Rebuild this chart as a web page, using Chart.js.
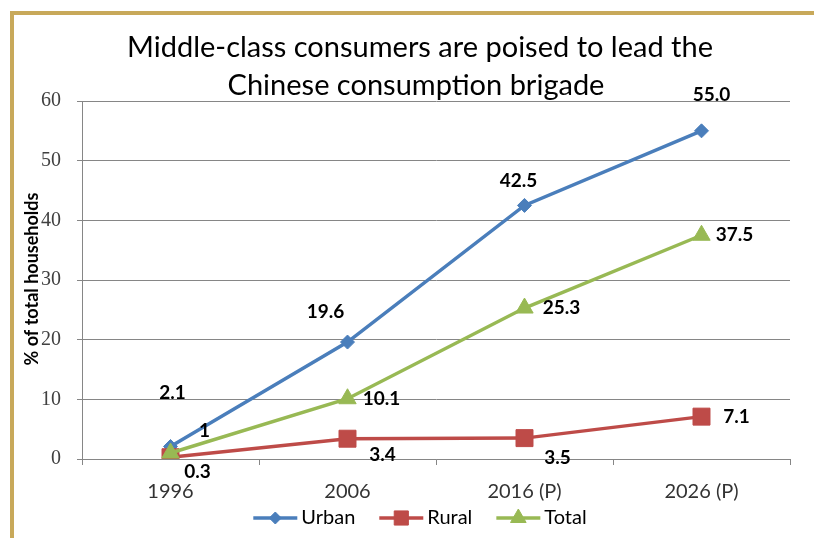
<!DOCTYPE html>
<html>
<head>
<meta charset="utf-8">
<script src="https://cdn.jsdelivr.net/npm/chart.js@4.4.1/dist/chart.umd.min.js"></script>
<style>
html, body { margin: 0; padding: 0; background: #fff; }
#wrap { position: relative; width: 814px; height: 538px; overflow: hidden; }
#frame { position: absolute; left: 10px; top: 11px; width: 900px; height: 700px;
         border-left: 4px solid #c8a95a; border-top: 4px solid #c8a95a; }
#chart { position: absolute; left: 0; top: 0; }
</style>
</head>
<body>
<div id="wrap">
  <div id="frame"></div>
  <canvas id="chart" width="814" height="538"></canvas>
</div>
<script>
// data
var categories = ['1996', '2006', '2016 (P)', '2026 (P)'];
var urban = [2.1, 19.6, 42.5, 55.0];
var rural = [0.3, 3.4, 3.5, 7.1];
var total = [1, 10.1, 25.3, 37.5];
var urbanLabels = ['2.1', '19.6', '42.5', '55.0'];
var ruralLabels = ['0.3', '3.4', '3.5', '7.1'];
var totalLabels = ['1', '10.1', '25.3', '37.5'];
var yTicks = [0, 10, 20, 30, 40, 50, 60];
var titleLines = ['Middle-class consumers are poised to lead the', 'Chinese consumption brigade'];
var yTitle = '% of total households';

var FONT = 'Lato, "Open Sans", sans-serif';
var AXIS = '#868686';

// titles, value labels and the legend (line + marker like the original)
var overlayPlugin = {
    id: 'overlay',
    afterDraw: function(chart) {
        var ctx = chart.ctx;
        ctx.save();

        // value labels
        ctx.font = 'bold 19px ' + FONT;
        ctx.fillStyle = '#000';
        ctx.textAlign = 'center';
        ctx.textBaseline = 'middle';
        chart.data.datasets.forEach(function(ds, i) {
            var meta = chart.getDatasetMeta(i);
            meta.data.forEach(function(pt, j) {
                var off = ds.labelOffsets[j];
                ctx.fillText(ds.valueLabels[j], pt.x + off[0], pt.y + off[1]);
            });
        });

        // chart title
        ctx.font = '29px ' + FONT;
        ctx.fillText(titleLines[0], 420, 48);
        ctx.fillText(titleLines[1], 416, 86);

        // y axis title
        ctx.save();
        ctx.translate(32, 279);
        ctx.rotate(-Math.PI / 2);
        ctx.font = 'bold 18px ' + FONT;
        ctx.fillText(yTitle, 0, 0);
        ctx.restore();

        // legend
        ctx.font = '20px ' + FONT;
        ctx.textAlign = 'left';
        var symW = 44, gap = 4, itemGap = 24, ly = 518;
        var widths = chart.data.datasets.map(function(ds) {
            return symW + gap + ctx.measureText(ds.label).width;
        });
        var totalW = widths.reduce(function(a, b) { return a + b; }, 0) + itemGap * (widths.length - 1);
        var x = 420 - totalW / 2;
        chart.data.datasets.forEach(function(ds, i) {
            ctx.strokeStyle = ds.borderColor;
            ctx.lineWidth = 3.5;
            ctx.beginPath();
            ctx.moveTo(x, ly);
            ctx.lineTo(x + symW, ly);
            ctx.stroke();
            ctx.fillStyle = ds.backgroundColor;
            ctx.lineWidth = 1;
            Chart.helpers.drawPoint(ctx, {
                pointStyle: ds.pointStyle,
                radius: ds.legendRadius,
                borderWidth: 1,
                rotation: 0
            }, x + symW / 2, ly);
            ctx.fillStyle = '#000';
            ctx.fillText(ds.label, x + symW + gap, ly);
            x += widths[i] + itemGap;
        });

        ctx.restore();
    }
};

var ctx = document.getElementById('chart').getContext('2d');
var chart = new Chart(ctx, {
    type: 'line',
    data: {
        labels: categories,
        datasets: [
            {
                label: 'Urban',
                data: urban,
                valueLabels: urbanLabels,
                labelOffsets: [[2, -54], [-22, -30], [-6, -25], [10, -36]],
                borderColor: '#4a7ebb',
                backgroundColor: '#4a7ebb',
                pointStyle: 'rectRot',
                pointRadius: 7,
                legendRadius: 6,
                borderWidth: 3.5,
                pointBorderWidth: 1,
                order: 2
            },
            {
                label: 'Rural',
                data: rural,
                valueLabels: ruralLabels,
                labelOffsets: [[27, 15], [35, 16], [33, 20], [35, 0]],
                borderColor: '#be4b48',
                backgroundColor: '#be4b48',
                pointStyle: 'rect',
                pointRadius: 12,
                legendRadius: 10,
                borderWidth: 3.5,
                pointBorderWidth: 1,
                order: 1
            },
            {
                label: 'Total',
                data: total,
                valueLabels: totalLabels,
                labelOffsets: [[34, -22], [34, 0], [37, 0], [33, 0]],
                borderColor: '#98b954',
                backgroundColor: '#98b954',
                pointStyle: 'triangle',
                pointRadius: 10,
                legendRadius: 9,
                borderWidth: 3.5,
                pointBorderWidth: 1,
                order: 0
            }
        ]
    },
    options: {
        responsive: false,
        animation: false,
        layout: {
            padding: { top: 101, right: 24, bottom: 0, left: 0 }
        },
        plugins: {
            legend: { display: false },
            title: { display: false },
            tooltip: { enabled: false }
        },
        elements: {
            line: { tension: 0 }
        },
        scales: {
            x: {
                type: 'category',
                offset: true,
                grid: {
                    offset: true,
                    drawOnChartArea: false,
                    tickLength: 6,
                    color: AXIS
                },
                border: { color: AXIS, width: 1 },
                ticks: {
                    color: '#333',
                    font: { family: FONT, size: 20 },
                    padding: 15,
                    maxRotation: 0
                },
                afterFit: function(scale) { scale.height = 79; }
            },
            y: {
                min: 0,
                max: 60,
                afterBuildTicks: function(scale) {
                    scale.ticks = yTicks.map(function(v) { return { value: v }; });
                },
                grid: {
                    color: AXIS,
                    tickLength: 5
                },
                border: { color: AXIS, width: 1 },
                ticks: {
                    color: '#404040',
                    font: { family: '"Liberation Serif", "DejaVu Serif", serif', size: 20 },
                    padding: 16
                },
                afterFit: function(scale) { scale.width = 82; }
            }
        }
    },
    plugins: [overlayPlugin]
});
</script>
</body>
</html>
